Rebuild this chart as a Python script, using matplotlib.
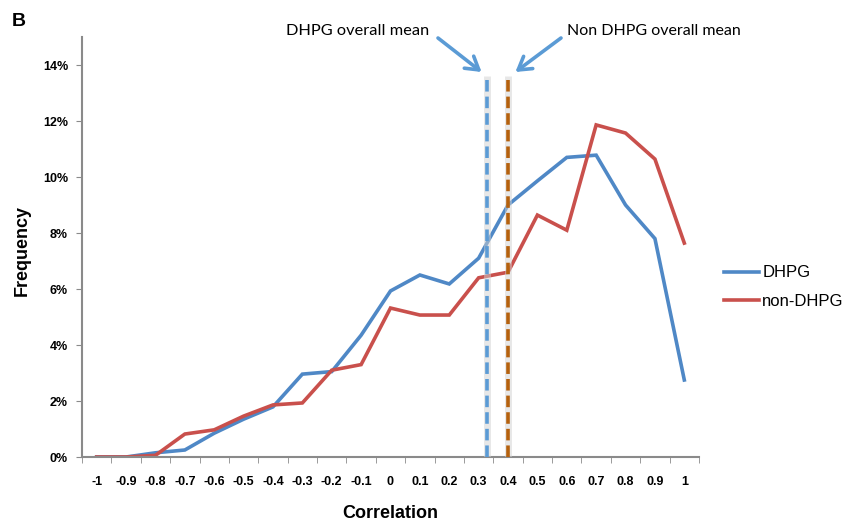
import matplotlib
matplotlib.use("Agg")
import matplotlib.pyplot as plt
import numpy as np

categories = ["-1", "-0.9", "-0.8", "-0.7", "-0.6", "-0.5", "-0.4", "-0.3", "-0.2", "-0.1",
              "0", "0.1", "0.2", "0.3", "0.4", "0.5", "0.6", "0.7", "0.8", "0.9", "1"]
dhpg = [0.0, 0.0, 0.15, 0.25, 0.85, 1.35, 1.79, 2.96, 3.05, 4.35,
        5.93, 6.5, 6.18, 7.1, 9.0, 9.86, 10.7, 10.78, 9.0, 7.8, 2.75]
non_dhpg = [0.0, 0.0, 0.06, 0.82, 0.97, 1.46, 1.86, 1.93, 3.1, 3.3,
            5.32, 5.07, 5.07, 6.4, 6.6, 8.64, 8.1, 11.86, 11.57, 10.64, 7.64]
dhpg_mean = 0.33
non_dhpg_mean = 0.40
yticks = [0, 2, 4, 6, 8, 10, 12, 14]

plt.rcParams['font.family'] = ['Liberation Sans', 'DejaVu Sans']

fig = plt.figure(figsize=(8.5, 5.23), dpi=100)
ax = fig.add_axes([82/850, 1-457/523, (699-82)/850, (457-37)/523])

x = np.arange(len(categories))
blue = "#4f88c6"
red = "#c9504c"
ax.plot(x, dhpg, color=blue, lw=2.6, label="DHPG", solid_joinstyle="miter")
ax.plot(x, non_dhpg, color=red, lw=2.6, label="non-DHPG", solid_joinstyle="miter")

def cat_pos(v):
    return (v + 1) * 10

ltop = 13.6
for m, c in [(dhpg_mean, "#5b9bd5"), (non_dhpg_mean, "#b5610e")]:
    xp = cat_pos(m)
    ax.plot([xp, xp], [0, ltop], color="#d0d0d0", lw=5.0, alpha=0.5, solid_capstyle="butt", zorder=3)
    ax.plot([xp, xp], [0, ltop], color=c, lw=2.6, ls=(0, (3.2, 1.4)), zorder=4)

arrow_c = "#5b9bd5"
astyle = "->,head_length=0.9,head_width=0.55"
ax.annotate("", xy=(cat_pos(dhpg_mean) - 0.2, 13.75), xytext=(438, 523-38), textcoords="figure pixels",
            arrowprops=dict(arrowstyle=astyle, color=arrow_c, lw=2.6,
                            shrinkA=0, shrinkB=0), annotation_clip=False)
ax.annotate("", xy=(cat_pos(non_dhpg_mean) + 0.25, 13.75), xytext=(561, 523-38), textcoords="figure pixels",
            arrowprops=dict(arrowstyle=astyle, color=arrow_c, lw=2.6,
                            shrinkA=0, shrinkB=0), annotation_clip=False)
fig.text(358/850, 1-31/523, "DHPG overall mean", ha="center", va="center", fontsize=11.8, family=["Lato", "DejaVu Sans"])
fig.text(654/850, 1-31/523, "Non DHPG overall mean", ha="center", va="center", fontsize=11.5, family=["Lato", "DejaVu Sans"])

ax.set_xlim(-0.5, len(categories) - 0.5)
ax.set_ylim(0, 15)
ax.set_yticks(yticks)
ax.set_yticklabels([f"{v}%" for v in yticks], fontweight="bold", fontsize=9)
ax.set_xticks(x)
ax.set_xticklabels(categories, fontweight="bold", fontsize=9)
ax.tick_params(axis="x", which="major", length=0, pad=14)
ax.set_xticks(np.arange(-0.5, len(categories)), minor=True)
ax.tick_params(axis="x", which="minor", length=4, color="#8a8a8a", direction="out")
ax.tick_params(axis="y", length=4, color="#8a8a8a", direction="out", pad=6)

for s in ["top", "right"]:
    ax.spines[s].set_visible(False)
for s in ["left", "bottom"]:
    ax.spines[s].set_color("#8a8a8a")
    ax.spines[s].set_linewidth(1.5)

fig.text(22/850, 1-250/523, "Frequency", fontweight="bold", fontsize=13, rotation=90, ha="center", va="center")
ax.set_xlabel("Correlation", fontweight="bold", fontsize=13, labelpad=12)

leg = ax.legend(loc="center left", bbox_to_anchor=(721/850, 1-287/523), bbox_transform=fig.transFigure,
                frameon=False, fontsize=12, handlelength=2.1, handletextpad=0.18, labelspacing=0.8,
                borderpad=0.2, borderaxespad=0)

fig.text(12/850, 1-22/523, "B", fontweight="bold", fontsize=14, ha="left", va="center")

fig.savefig("out.png", dpi=100)
